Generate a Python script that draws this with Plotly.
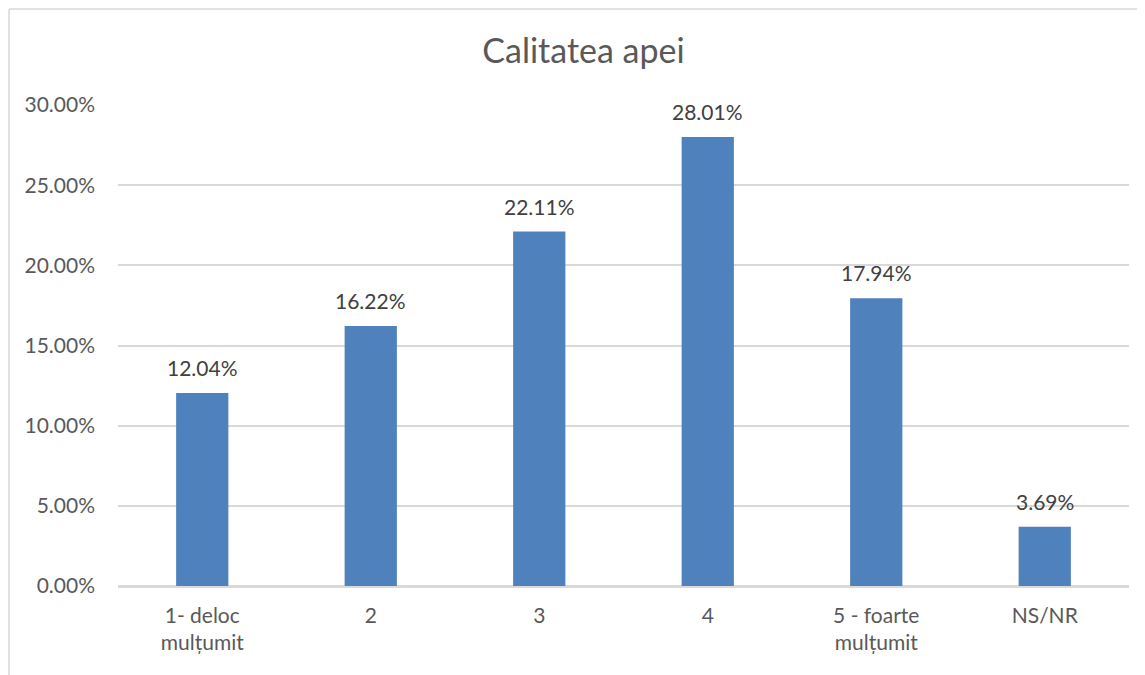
import plotly.graph_objects as go

categories = ["1- deloc<br>mulțumit", "2", "3", "4", "5 - foarte<br>mulțumit", "NS/NR"]
values = [0.1204, 0.1622, 0.2211, 0.2801, 0.1794, 0.0369]
labels = ["12.04%", "16.22%", "22.11%", "28.01%", "17.94%", "3.69%"]
y_ticks = [0, 0.05, 0.10, 0.15, 0.20, 0.25, 0.30]
y_ticklabels = ["0.00%", "5.00%", "10.00%", "15.00%", "20.00%", "25.00%", "30.00%"]

FONT = "Lato, 'Open Sans', sans-serif"
TXT = "#595959"

W, H = 1137, 667  # page body adds an 8px offset

fig = go.Figure(go.Bar(x=categories, y=values, marker=dict(color="#4F81BD", line=dict(width=0)),
                       hoverinfo="skip"))

for i, (v, t) in enumerate(zip(values, labels)):
    fig.add_annotation(x=i, y=v, text=t, showarrow=False, yanchor="bottom", yshift=11,
                       font=dict(family=FONT, size=21, color="#404040"))

fig.update_layout(
    width=W, height=H,
    margin=dict(l=110, r=16, t=97, b=89),
    paper_bgcolor="white", plot_bgcolor="white",
    bargap=0.69,
    showlegend=False,
    title=dict(text="Calitatea apei", x=575.5 / W, xref="container", xanchor="center",
               y=1 - 43 / H, yanchor="middle",
               font=dict(family=FONT, size=34, color=TXT)),
    font=dict(family=FONT, color=TXT),
    xaxis=dict(type="category", showgrid=False, showline=True, linecolor="#D9D9D9", linewidth=1.5,
               ticks="", tickfont=dict(size=21, color=TXT, family=FONT), ticklabelstandoff=10,
               fixedrange=True),
    yaxis=dict(range=[0, 0.30], tickvals=y_ticks, ticktext=y_ticklabels,
               showgrid=True, gridcolor="#D9D9D9", gridwidth=1.5,
               zeroline=True, zerolinecolor="#D9D9D9", zerolinewidth=1.5,
               ticks="", tickfont=dict(size=21, color=TXT, family=FONT), ticklabelstandoff=22,
               fixedrange=True),
)

# chart-area border (left and top edges visible in the reference)
x0 = -110 / 1011 + 0.001
ytop = (578) / 481 - 0.002
fig.add_shape(type="line", xref="paper", yref="paper", x0=x0, x1=x0, y0=-0.3, y1=ytop,
              line=dict(color="#D9D9D9", width=1.5))
fig.add_shape(type="line", xref="paper", yref="paper", x0=x0, x1=1.05, y0=ytop, y1=ytop,
              line=dict(color="#D9D9D9", width=1.5))

fig.write_html("out.html")
